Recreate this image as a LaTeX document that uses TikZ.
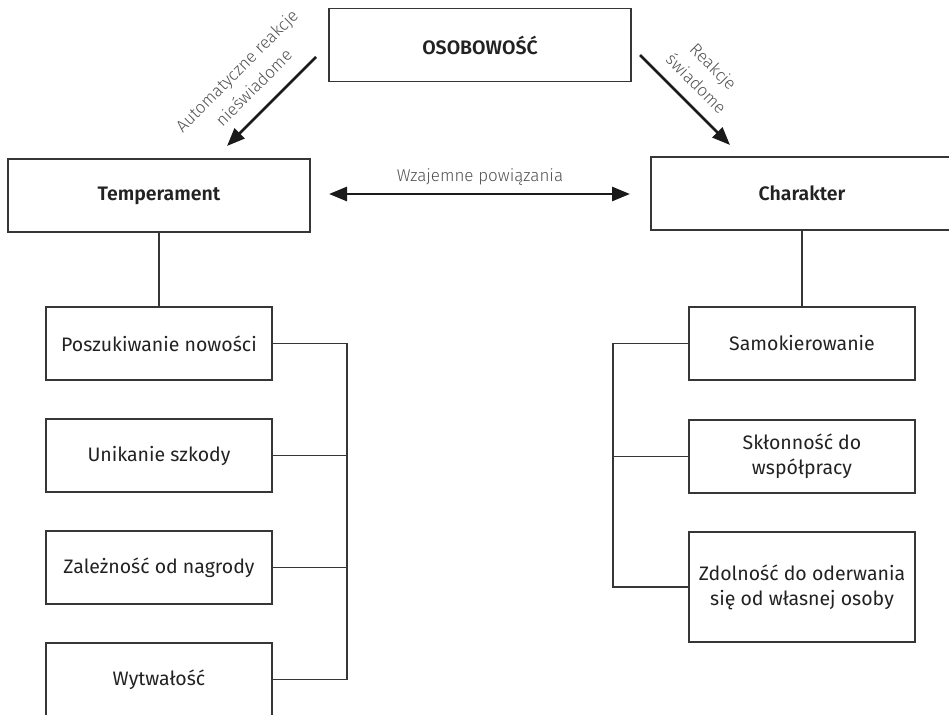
\documentclass[tikz,border=0pt]{standalone}
\usepackage{fontspec}
\setmainfont{Fira Sans}[BoldFont={Fira Sans SemiBold}]
\newfontfamily\lightfont{Fira Sans Light}
\usetikzlibrary{arrows.meta}
\definecolor{linec}{HTML}{363636}
\definecolor{textc}{HTML}{222222}
\definecolor{arrc}{HTML}{1A1A1A}
\definecolor{labc}{HTML}{505050}
\begin{document}
\begin{tikzpicture}[x=1pt,y=-1pt,
  box/.style={draw=linec, line width=1.2pt, minimum width=302pt, minimum height=73pt, inner sep=0pt, text=textc, font=\fontsize{19.5}{25}\selectfont\bfseries},
  sub/.style={draw=linec, line width=1.2pt, minimum width=226pt, minimum height=73pt, inner sep=0pt, text=textc, align=center, font=\fontsize{19.5}{25}\selectfont},
  conn/.style={draw=linec, line width=1.2pt},
  arr/.style={line width=2.8pt, draw=arrc, -{Triangle[length=18pt,width=14pt]}},
  arrtwo/.style={line width=2.8pt, draw=arrc, {Triangle[length=18pt,width=14pt]}-{Triangle[length=18pt,width=14pt]}},
  lab/.style={text=labc, font=\lightfont\fontsize{17}{24}\selectfont, align=center}]
\useasboundingbox (0,0) rectangle (949,714);
\clip (0,0) rectangle (949,714);

% top
\node[box] (oso) at (480,45) {OSOBOWOŚĆ};
\node[box] (temp) at (159,195.5) {Temperament};
\node[box] (char) at (802,193.5) {Charakter};

% left subtree
\node[sub] (p1) at (159,343.5) {Poszukiwanie nowości};
\node[sub] (p2) at (159,455.5) {Unikanie szkody};
\node[sub] (p3) at (159,567.5) {Zależność od nagrody};
\node[sub] (p4) at (159,679.5) {Wytwałość};

% right subtree
\node[sub] (s1) at (802,343.5) {Samokierowanie};
\node[sub] (s2) at (802,456.5) {Skłonność do\\współpracy};
\node[sub, minimum height=110pt] (s3) at (802,587) {Zdolność do oderwania\\się od własnej osoby};

% connectors
\draw[conn] (temp.south) -- (p1.north);
\coordinate (lt) at (347,343.5);
\draw[conn] (p1.east) -- (lt) |- (p4.east);
\draw[conn] (p2.east) -- (p2.east -| lt);
\draw[conn] (p3.east) -- (p3.east -| lt);

\draw[conn] (char.south) -- (s1.north);
\coordinate (rt) at (613,343.5);
\draw[conn] (s1.west) -- (rt) |- (s3.west);
\draw[conn] (s2.west) -- (s2.west -| rt);

% arrows
\coordinate (la) at (316,57);
\coordinate (lb) at (227,146);
\coordinate (ra) at (640,55);
\coordinate (rb) at (730,145);
\draw[arr] (la) -- (lb);
\draw[arr] (ra) -- (rb);
\coordinate (ma) at (329,194);
\coordinate (mb) at (630,194);
\draw[arrtwo] (ma) -- (mb);

% labels
\node[lab, anchor=base] (wz) at (480,181) {Wzajemne powiązania};
\node[lab, rotate=45] (auto) at (245,79) {Automatyczne reakcje\\nieświadome};
\node[lab, rotate=-45] (swi) at (705,75) {Reakcje\\świadome};
\end{tikzpicture}
\end{document}
